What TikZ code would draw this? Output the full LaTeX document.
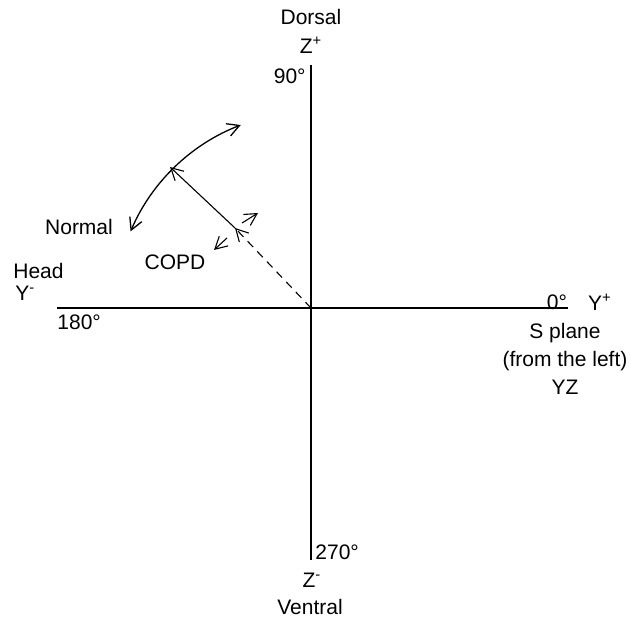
\documentclass[tikz,border=0pt]{standalone}
\usepackage{fontspec}
\setmainfont{Liberation Sans}
\usetikzlibrary{arrows.meta,calc}
\begin{document}
\begin{tikzpicture}[x=0.5pt, y=0.5pt, every node/.style={font=\fontsize{10.5}{12}\selectfont, inner sep=0pt},
    axis/.style={line width=0.7pt},
    barb/.style={Straight Barb[length=6pt,width=6.5pt]},
    vec/.style={line width=0.55pt, -{Straight Barb[length=6pt,width=6.5pt]}}]
        \useasboundingbox (0,0) rectangle (643,617);
        \coordinate (O) at (311,309);
        \coordinate (ztop) at (311,552);
        \coordinate (zbot) at (311,57);
        \coordinate (yleft) at (57,309);
        \coordinate (yright) at (568,309);
        \coordinate (copd) at (235,389);
        \coordinate (normal) at (170,450);
        \coordinate (arcstart) at ($(O)+(157:196)$);
        \draw[axis] (ztop) -- (zbot);
        \draw[axis] (yleft) -- (yright);
        \draw[vec, dashed, dash pattern=on 4pt off 3pt] (O) -- (copd);
        \draw[vec] (copd) -- (normal);
        \draw[line width=0.65pt, {Straight Barb[length=6pt,width=6.5pt]}-{Straight Barb[length=6pt,width=6.5pt]}]
            (arcstart) arc[start angle=157, end angle=111, radius=196];
        \coordinate (cup0) at (242,394);
        \coordinate (cup1) at (258,404);
        \coordinate (cdn0) at (227,379);
        \coordinate (cdn1) at (214,367);
        \draw[vec] (cup0) -- (cup1);
        \draw[vec] (cdn0) -- (cdn1);
        % labels
        \node (dorsal) at (311,600) {Dorsal};
        \node (zplus) at (311,572) {Z\textsuperscript{+}};
        \node[anchor=east] (deg90) at (306,541) {90°};
        \node[anchor=west] (head) at (13,346) {Head};
        \node[anchor=west] (yminus) at (15,324) {Y\textsuperscript{-}};
        \node[anchor=west] (deg180) at (57,295) {180°};
        \node (deg0) at (557,315) {0°};
        \node (yplus) at (600,315) {Y\textsuperscript{+}};
        \node (splane) at (565,284) {S plane};
        \node (fromleft) at (565,256) {(from the left)};
        \node (yz) at (565,230) {YZ};
        \node[anchor=west] (deg270) at (315,65) {270°};
        \node (zminus) at (312,37) {Z\textsuperscript{-}};
        \node (ventral) at (310,10) {Ventral};
        \node (normallbl) at (79,390) {Normal};
        \node (copdlbl) at (175,355) {COPD};
    \end{tikzpicture}
\end{document}
